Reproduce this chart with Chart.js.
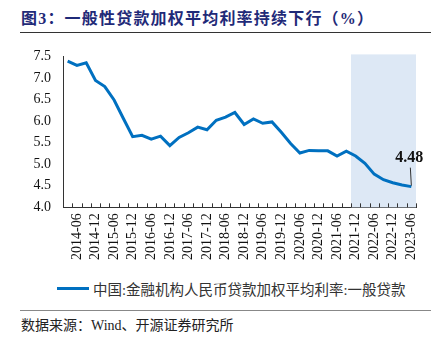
<!DOCTYPE html>
<html>
<head>
<meta charset="utf-8">
<script src="https://cdn.jsdelivr.net/npm/chart.js@4.4.0/dist/chart.umd.min.js"></script>
<style>
  html, body { margin: 0; padding: 0; background: #fff; }
  #wrap { position: relative; width: 437px; height: 339px; overflow: hidden; }
  #title {
    position: absolute; left: 21px; top: 5px;
    font: bold 16px 'Liberation Serif', 'Noto Sans CJK SC', serif;
    letter-spacing: 1.2px; color: #1f2a78; white-space: nowrap;
  }
  #titleRule { position: absolute; left: 20px; top: 32px; width: 411px; height: 1px; background: #333; }
  #chartBox { position: absolute; left: 0; top: 36px; width: 437px; height: 230px; }
  #legend {
    position: absolute; left: 57px; top: 278px; height: 20px; white-space: nowrap;
    font: 14.5px 'Liberation Serif', 'Noto Sans CJK SC', serif; color: #333;
    display: flex; align-items: center;
  }
  #legend .swatch { display: inline-block; width: 32px; height: 3px; background: #0070c0; margin-right: 4px; }
  #srcRule { position: absolute; left: 20px; top: 310px; width: 411px; height: 1px; background: #888; }
  #source {
    position: absolute; left: 21px; top: 314px;
    font: 14px 'Liberation Serif', 'Noto Sans CJK SC', serif;
    color: #222; white-space: nowrap;
  }
</style>
</head>
<body>
<div id="wrap">
  <div id="title">图3：一般性贷款加权平均利率持续下行（%）</div>
  <div id="titleRule"></div>
  <div id="chartBox"><canvas id="rateChart"></canvas></div>
  <div id="legend"><span class="swatch"></span><span id="legendText"></span></div>
  <div id="srcRule"></div>
  <div id="source">数据来源：Wind、开源证券研究所</div>
</div>
<script>
// Data
const quarters = [
  '2014-03','2014-06','2014-09','2014-12','2015-03','2015-06','2015-09','2015-12',
  '2016-03','2016-06','2016-09','2016-12','2017-03','2017-06','2017-09','2017-12',
  '2018-03','2018-06','2018-09','2018-12','2019-03','2019-06','2019-09','2019-12',
  '2020-03','2020-06','2020-09','2020-12','2021-03','2021-06','2021-09','2021-12',
  '2022-03','2022-06','2022-09','2022-12','2023-03','2023-06'
]
const loanRate = [
  7.39, 7.29, 7.35, 6.94, 6.80, 6.49, 6.06, 5.64,
  5.67, 5.58, 5.65, 5.43, 5.62, 5.73, 5.86, 5.80,
  6.02, 6.09, 6.20, 5.92, 6.05, 5.95, 5.98, 5.74,
  5.48, 5.26, 5.32, 5.31, 5.31, 5.19, 5.30, 5.19,
  5.02, 4.77, 4.64, 4.57, 4.52, 4.48
]
const yTicks = [4.0, 4.5, 5.0, 5.5, 6.0, 6.5, 7.0, 7.5]
const shadeFrom = '2021-12'
const seriesName = '中国:金融机构人民币贷款加权平均利率:一般贷款'

const serif = "'Liberation Serif', 'Noto Sans CJK SC', serif"
const lineBlue = '#0070c0'

// shaded window behind the line
const shadePlugin = {
  id: 'shade',
  beforeDatasetsDraw(chart) {
    const { ctx, chartArea, scales: { x } } = chart
    const half = (x.getPixelForValue(1) - x.getPixelForValue(0)) / 2
    const left = x.getPixelForValue(quarters.indexOf(shadeFrom)) - half
    ctx.save()
    ctx.fillStyle = '#dde8f5'
    ctx.fillRect(left, chartArea.top - 2, chartArea.right - left, chartArea.bottom - chartArea.top + 2)
    ctx.restore()
  }
}

// small inward tick marks between categories
const tickPlugin = {
  id: 'innerTicks',
  afterDatasetsDraw(chart) {
    const { ctx, chartArea, scales: { x } } = chart
    const half = (x.getPixelForValue(1) - x.getPixelForValue(0)) / 2
    ctx.save()
    ctx.strokeStyle = '#333'
    ctx.lineWidth = 1
    ctx.beginPath()
    for (let i = 0; i <= quarters.length; i++) {
      const px = Math.round(x.getPixelForValue(i) - half) + 0.5
      ctx.moveTo(px, chartArea.bottom)
      ctx.lineTo(px, chartArea.bottom - 4)
    }
    ctx.stroke()
    ctx.restore()
  }
}

// last value label with leader line
const lastLabelPlugin = {
  id: 'lastLabel',
  afterDatasetsDraw(chart) {
    const { ctx } = chart
    const meta = chart.getDatasetMeta(0)
    const pt = meta.data[meta.data.length - 1]
    const val = loanRate[loanRate.length - 1]
    ctx.save()
    ctx.strokeStyle = '#333'
    ctx.lineWidth = 1
    ctx.beginPath()
    ctx.moveTo(pt.x, pt.y - 1)
    ctx.lineTo(pt.x - 1, pt.y - 19)
    ctx.stroke()
    ctx.fillStyle = '#111'
    ctx.font = 'bold 16px ' + serif
    ctx.textAlign = 'center'
    ctx.textBaseline = 'bottom'
    ctx.fillText(val.toFixed(2), pt.x - 2, pt.y - 21)
    ctx.restore()
  }
}

let rateChart

function initChart() {
  document.getElementById('legendText').textContent = seriesName
  const el = document.getElementById('rateChart')
  rateChart = new Chart(el, {
    type: 'line',
    data: {
      labels: quarters,
      datasets: [{
        label: seriesName,
        data: loanRate,
        borderColor: lineBlue,
        backgroundColor: lineBlue,
        borderWidth: 3,
        pointRadius: 0,
        tension: 0
      }]
    },
    options: {
      responsive: true,
      maintainAspectRatio: false,
      animation: false,
      layout: { padding: { left: 33, right: 21, top: 9, bottom: 0 } },
      plugins: {
        legend: { display: false },
        tooltip: { enabled: false }
      },
      scales: {
        x: {
          offset: true,
          grid: { display: false, drawTicks: false },
          border: { display: true, color: '#333', width: 1 },
          ticks: {
            autoSkip: false,
            minRotation: 90,
            maxRotation: 90,
            padding: 6,
            color: '#111',
            font: { family: serif, size: 14 },
            callback: (v, i) => (i % 2 === 1 ? quarters[i] : '')
          }
        },
        y: {
          min: yTicks[0],
          max: yTicks[yTicks.length - 1],
          afterBuildTicks: (axis) => { axis.ticks = yTicks.map(v => ({ value: v })) },
          afterFit: (axis) => { axis.width = 30 },
          grid: { display: false, drawTicks: false },
          border: { display: true, color: '#333', width: 1 },
          ticks: {
            padding: 12,
            color: '#111',
            font: { family: serif, size: 14 },
            callback: (v) => Number(v).toFixed(1)
          }
        }
      }
    },
    plugins: [shadePlugin, tickPlugin, lastLabelPlugin]
  })
}

document.addEventListener('DOMContentLoaded', initChart)
</script>
</body>
</html>
